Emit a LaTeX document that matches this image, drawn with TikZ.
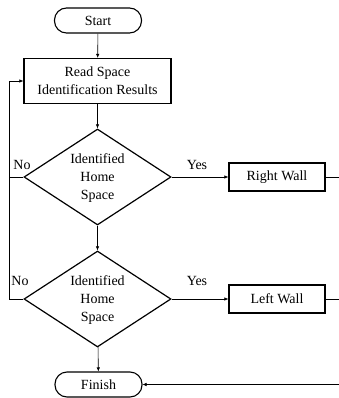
\documentclass[tikz,border=0pt]{standalone}
\usepackage{fontspec}
\setmainfont{Liberation Serif}
\usetikzlibrary{arrows.meta,shapes.geometric}
\begin{document}
\begin{tikzpicture}[x=1pt,y=-1pt,
  every node/.style={font=\fontsize{14}{18}\selectfont},
  term/.style={draw,line width=1.1pt,rounded corners=12pt,minimum width=87pt,minimum height=25pt,inner sep=0pt},
  procbox/.style={draw,line width=1.2pt,minimum width=147pt,minimum height=45pt,inner sep=0pt,align=center},
  wallbox/.style={draw,line width=1.2pt,minimum width=96pt,minimum height=28pt,inner sep=0pt},
  decision/.style={draw,line width=1.2pt,diamond,aspect=1.53,minimum width=147pt,minimum height=96pt,inner sep=0pt},
  dtext/.style={align=center,inner sep=0pt},
  conn/.style={line width=0.6pt},
  arr/.style={conn,-{Latex[length=4pt,width=3.5pt]}},
  lbl/.style={inner sep=0pt}
]
\useasboundingbox (0,0) rectangle (339,398);
\node[term] (start) at (98,20.5) {Start};
\node[procbox] (read) at (97.5,81) {Read Space\\Identification Results};
\node[decision] (d1) at (97.5,177) {};
\node[dtext] (d1t) at (97.5,178) {Identified\\Home\\Space};
\node[wallbox] (rw) at (277,177) {Right Wall};
\node[decision] (d2) at (97.5,299) {};
\node[dtext] (d2t) at (97.5,300) {Identified\\Home\\Space};
\node[wallbox] (lw) at (277,299) {Left Wall};
\node[term] (finish) at (98.5,384.5) {Finish};

\coordinate (loopA) at (9,177);
\coordinate (loopB) at (9,299);
\coordinate (e1) at (339,177);
\coordinate (e2) at (339,299);
\coordinate (e3) at (339,384.5);

\draw[arr] (start) -- (read);
\draw[arr] (read) -- (d1);
\draw[arr] (d1) -- (d2);
\draw[arr] (d2) -- (finish);
\draw[arr] (d1) -- (rw);
\draw[arr] (d2) -- (lw);
\draw[conn] (rw) -- (e1);
\draw[conn] (lw) -- (e2);
\draw[arr] (e3) -- (finish);
\draw[conn] (d1.west) -- (loopA);
\draw[arr] (d2.west) -- (loopB) |- (read.west);

\node[lbl] (yes1) at (197,165) {Yes};
\node[lbl] (no1) at (22,165) {No};
\node[lbl] (yes2) at (197,281) {Yes};
\node[lbl] (no2) at (20,281) {No};
\end{tikzpicture}
\end{document}
